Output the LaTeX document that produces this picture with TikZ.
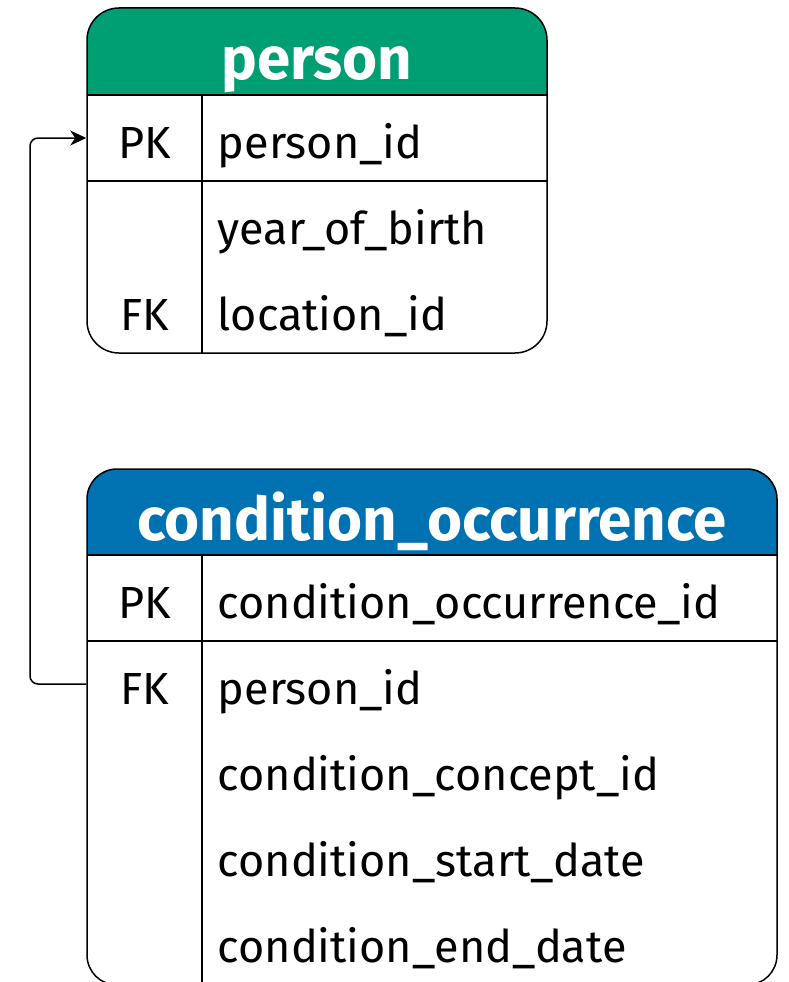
\documentclass[tikz,border=0pt]{standalone}
\usepackage{fontspec}
\setmainfont{Fira Sans}
\usetikzlibrary{arrows.meta}
\definecolor{persongreen}{HTML}{009E73}
\definecolor{condblue}{HTML}{0072B2}
\begin{document}
\begin{tikzpicture}
 [x=1pt,y=-1pt,line width=1.5pt,
  every node/.style={inner sep=0pt,font=\fontsize{45}{52}\selectfont},
  keycell/.style={minimum width=115pt,minimum height=86pt,text height=45pt,text depth=5pt},
  fieldcell/.style={anchor=west,text height=45pt,text depth=5pt},
  headcell/.style={text=white,font=\fontsize{60}{66}\selectfont\bfseries,text height=60pt,text depth=4pt},
  link/.style={line width=1.5pt,-{Stealth[length=16pt,width=15pt,inset=5pt]},rounded corners=8pt}]
  \useasboundingbox (0,0) rectangle (788,982);

  % person table
  \begin{scope}
    \clip[rounded corners=32pt] (87,8) rectangle (547,353);
    \fill[persongreen] (87,8) rectangle (547,95);
  \end{scope}
  \draw[rounded corners=32pt] (87,8) rectangle (547,353);
  \foreach \y in {95,181}
    \draw (87,\y) -- (547,\y);
  \draw (202,95) -- (202,353);

  \node[headcell] (person) at (317,51) {person};
  \node[keycell] (person-pk) at (144.5,138) {PK};
  \node[keycell] (person-fk) at (144.5,310) {FK};
  \node[fieldcell] (person-id) at (217,138) {person\_id};
  \node[fieldcell] (person-yob) at (217,224) {year\_of\_birth};
  \node[fieldcell] (person-loc) at (217,310) {location\_id};

  % condition_occurrence table
  \begin{scope}
    \clip[rounded corners=30pt] (87,469) rectangle (777,985);
    \fill[condblue] (87,469) rectangle (777,555);
  \end{scope}
  \draw[rounded corners=30pt] (87,469) rectangle (777,985);
  \foreach \y in {555,641}
    \draw (87,\y) -- (777,\y);
  \draw (202,555) -- (202,985);

  \node[headcell] (cond) at (432,512) {condition\_occurrence};
  \node[keycell] (cond-pk) at (144.5,598) {PK};
  \node[keycell] (cond-fk) at (144.5,684) {FK};
  \node[fieldcell] (cond-id) at (217,598) {condition\_occurrence\_id};
  \node[fieldcell] (cond-person) at (217,684) {person\_id};
  \node[fieldcell] (cond-concept) at (217,770) {condition\_concept\_id};
  \node[fieldcell] (cond-start) at (217,856) {condition\_start\_date};
  \node[fieldcell] (cond-end) at (217,942) {condition\_end\_date};

  % foreign key link
  \coordinate (bend) at (30,684);
  \draw[link] (cond-fk.west) -- (bend) |- (person-pk.west);
\end{tikzpicture}
\end{document}
